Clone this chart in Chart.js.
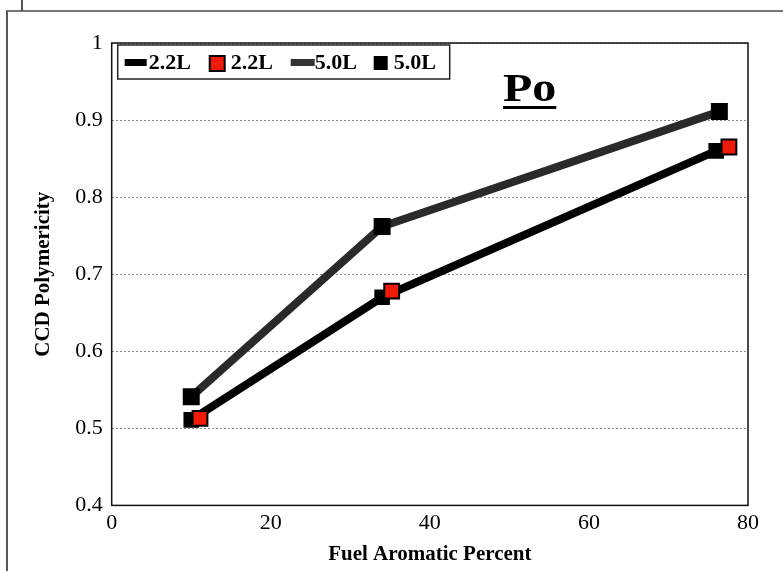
<!DOCTYPE html>
<html>
<head>
<meta charset="utf-8">
<script src="https://cdn.jsdelivr.net/npm/chart.js@4.4.0/dist/chart.umd.min.js"></script>
<style>
  html, body { margin:0; padding:0; background:#fff; }
  #wrap { position:relative; width:783px; height:571px; overflow:hidden; }
  #frame { position:absolute; left:6px; top:10px; width:800px; height:600px; border-left:2px solid #555; border-top:2px solid #777; }
  #tick { position:absolute; left:21px; top:0; width:0; height:11px; border-left:2px solid #555; }
  #po { position:absolute; left:503px; top:64px; font:bold 40px "Liberation Serif", serif; text-decoration:underline; text-decoration-thickness:3px; text-underline-offset:5px; color:#000; transform:scaleX(1.2); transform-origin:left top; }
  canvas { position:absolute; left:0; top:0; }
</style>
</head>
<body>
<div id="wrap">
  <div id="frame"></div>
  <div id="tick"></div>
  <canvas id="c" width="783" height="571"></canvas>
  <div id="po">Po</div>
</div>
<script>
/* CCD polymericity vs fuel aromatics */
const xLine22 = [10, 34, 76];
const yLine22 = [0.511, 0.670, 0.860];
const xMark22 = [11.1, 35.2, 77.6];
const yMark22 = [0.513, 0.678, 0.865];
const xLine50 = [10, 34, 76.4];
const yLine50 = [0.541, 0.762, 0.911];
const yTicks = [0.4, 0.5, 0.6, 0.7, 0.8, 0.9, 1];
const xTicks = [0, 20, 40, 60, 80];
const legendLabels = ['2.2L', '2.2L', '5.0L', '5.0L'];

const serif = '"Liberation Serif", "DejaVu Serif", serif';
const pts = (xs, ys) => xs.map((x, i) => ({ x, y: ys[i] }));

// plot frame + legend box inside the plot area
const framePlugin = {
  id: 'frameLegend',
  afterDatasetsDraw(chart) {
    const { ctx, chartArea: a } = chart;
    ctx.save();
    ctx.strokeStyle = '#111';
    ctx.lineWidth = 1.5;
    ctx.strokeRect(a.left, a.top, a.right - a.left, a.bottom - a.top);

    // legend
    const bx = a.left + 6, by = a.top + 2, bw = 332, bh = 34;
    ctx.fillStyle = '#fff';
    ctx.fillRect(bx, by, bw, bh);
    ctx.strokeStyle = '#222';
    ctx.lineWidth = 1.5;
    ctx.strokeRect(bx, by, bw, bh);
    const cy = by + bh / 2;
    ctx.font = 'bold 22px ' + serif;
    ctx.textBaseline = 'middle';
    // item 1: black line
    ctx.fillStyle = '#000';
    ctx.fillRect(bx + 7, cy - 3, 22, 7);
    ctx.fillText(legendLabels[0], bx + 31, cy + 1);
    // item 2: red square
    ctx.fillStyle = '#ee1a0a';
    ctx.fillRect(bx + 92, cy - 6, 15, 15);
    ctx.strokeStyle = '#000';
    ctx.lineWidth = 2;
    ctx.strokeRect(bx + 92, cy - 6, 15, 15);
    ctx.fillStyle = '#000';
    ctx.fillText(legendLabels[1], bx + 113, cy + 1);
    // item 3: grey textured line
    ctx.fillStyle = '#333';
    ctx.fillRect(bx + 173, cy - 3, 24, 7);
    ctx.fillStyle = '#000';
    ctx.fillText(legendLabels[2], bx + 197, cy + 1);
    // item 4: black square
    ctx.fillRect(bx + 256, cy - 6, 14, 14);
    ctx.fillText(legendLabels[3], bx + 276, cy + 1);
    ctx.restore();
  }
};

new Chart(document.getElementById('c'), {
  type: 'scatter',
  data: {
    datasets: [
      { label: '2.2L', data: pts(xMark22, yMark22), showLine: false,
        pointStyle: 'rect', pointRadius: 10.5, pointBackgroundColor: '#ee1a0a', pointBorderColor: '#000', pointBorderWidth: 2 },
      { label: '2.2L', data: pts(xLine22, yLine22), showLine: true, borderColor: '#000', borderWidth: 8,
        pointStyle: 'rect', pointRadius: 11, pointBackgroundColor: '#000', pointBorderColor: '#000', pointBorderWidth: 0 },
      { label: '5.0L', data: pts(xLine50, yLine50), showLine: true, borderColor: '#2a2a2a', borderWidth: 8,
        pointStyle: 'rect', pointRadius: 12, pointBackgroundColor: '#000', pointBorderColor: '#000', pointBorderWidth: 0 }
    ]
  },
  options: {
    responsive: false,
    animation: false,
    layout: { padding: { left: 27, right: 35, top: 43, bottom: 0 } },
    plugins: { legend: { display: false }, tooltip: { enabled: false } },
    scales: {
      x: {
        type: 'linear', min: 0, max: 80,
        afterBuildTicks: s => { s.ticks = xTicks.map(v => ({ value: v })); },
        grid: { display: false, drawTicks: false },
        border: { display: false },
        ticks: { color: '#000', font: { family: serif, size: 22 }, padding: 5 },
        title: { display: true, text: 'Fuel Aromatic Percent', color: '#000', font: { family: serif, size: 21, weight: 'bold' }, padding: { top: 0 } }
      },
      y: {
        type: 'linear', min: 0.4, max: 1,
        afterBuildTicks: s => { s.ticks = yTicks.map(v => ({ value: v })); },
        grid: { color: '#8a8a8a', lineWidth: 1, drawTicks: false },
        border: { display: false, dash: [2, 2] },
        ticks: { color: '#000', font: { family: serif, size: 22 }, padding: 9,
          callback: v => String(Math.round(v * 10) / 10) },
        title: { display: true, text: 'CCD Polymericity', color: '#000', font: { family: serif, size: 21, weight: 'bold' }, padding: { bottom: 10 } }
      }
    }
  },
  plugins: [framePlugin]
});
</script>
</body>
</html>
